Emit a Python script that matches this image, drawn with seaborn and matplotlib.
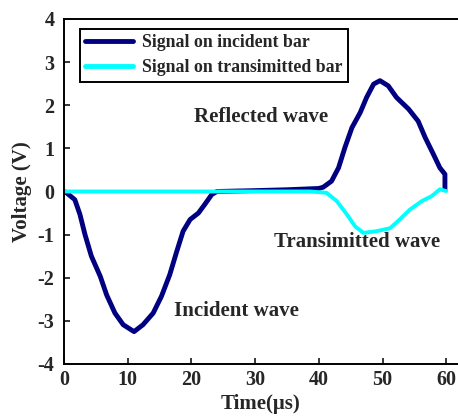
import pandas as pd
import seaborn as sns
import matplotlib
matplotlib.use("Agg")
import matplotlib.pyplot as plt

# Incident-bar signal (time in microseconds, voltage in volts)
t_incident = [0.0, 0.4, 1.7, 2.5, 3.3, 4.3, 5.7, 6.7, 8.0, 9.3, 11.0, 12.4,
              14.0, 15.3, 16.6, 17.7, 18.7, 19.8, 21.1, 22.1, 23.2, 24.0,
              30.0, 35.0, 40.0, 40.7, 42.0, 43.1, 44.1, 45.2, 46.5, 47.5,
              48.6, 49.6, 50.9, 52.2, 54.1, 55.6, 56.7, 58.0, 59.0, 59.8,
              59.8]
v_incident = [0.0, -0.03, -0.19, -0.53, -1.0, -1.5, -1.97, -2.4, -2.82, -3.09,
              -3.25, -3.09, -2.82, -2.43, -1.93, -1.39, -0.92, -0.65, -0.5,
              -0.3, -0.07, 0.0, 0.02, 0.04, 0.07, 0.1, 0.24, 0.55, 1.02, 1.48,
              1.83, 2.18, 2.49, 2.57, 2.45, 2.18, 1.91, 1.63, 1.25, 0.86,
              0.55, 0.4, 0.05]

# Transmitted-bar signal
t_transmit = [0.0, 10.0, 20.0, 30.0, 38.6, 41.2, 42.8, 44.4, 45.7, 47.0, 49.1,
              51.2, 52.7, 54.3, 56.2, 57.7, 59.0, 60.0]
v_transmit = [0.0, 0.0, 0.0, 0.0, 0.0, -0.03, -0.22, -0.53, -0.81, -0.96,
              -0.92, -0.85, -0.65, -0.42, -0.22, -0.11, 0.05, 0.01]

series_names = ["Signal on incident bar", "Signal on transimitted bar"]
series_colors = ["#000080", "#00FFFF"]

x_ticks = [0, 10, 20, 30, 40, 50, 60]
y_ticks = [-4, -3, -2, -1, 0, 1, 2, 3, 4]

annotations = [
    ("Reflected wave", 30.9, 1.72),
    ("Incident wave", 27.0, -2.78),
    ("Transimitted wave", 46.0, -1.18),
]

df = pd.concat([
    pd.DataFrame({"t": t_incident, "v": v_incident, "series": series_names[0]}),
    pd.DataFrame({"t": t_transmit, "v": v_transmit, "series": series_names[1]}),
], ignore_index=True)

sns.set_style("ticks")
plt.rcParams["font.family"] = ["Liberation Serif", "DejaVu Serif"]
plt.rcParams["font.weight"] = "bold"
plt.rcParams["axes.unicode_minus"] = False

fig = plt.figure(figsize=(4.58, 4.19), dpi=100)
ax = fig.add_axes([0.1397, 0.1313, 0.8603, 0.8234])

for name, color, lw in zip(series_names, series_colors, [3.5, 2.8]):
    sub = df[df["series"] == name]
    sns.lineplot(data=sub, x="t", y="v", sort=False, estimator=None,
                 color=color, linewidth=lw, label=name, ax=ax,
                 solid_joinstyle="round", solid_capstyle="round")

ax.set_xlim(0, 61.85)
ax.set_ylim(-4, 4)
ax.set_xticks(x_ticks)
ax.set_yticks(y_ticks)
ax.tick_params(direction="in", length=4, width=1.3, labelsize=14.5,
               top=False, right=False)
ax.tick_params(axis="x", pad=4)
ax.tick_params(axis="y", pad=7)
for lbl in ax.get_xticklabels() + ax.get_yticklabels():
    lbl.set_fontweight("bold")

for side in ["left", "bottom", "top"]:
    ax.spines[side].set_linewidth(1.4)
    ax.spines[side].set_color("black")
ax.spines["right"].set_visible(False)

ax.set_xlabel("Time(μs)", fontsize=15, fontweight="bold", labelpad=3)
ax.set_ylabel("Voltage (V)", fontsize=15, fontweight="bold", labelpad=4)

for text, x, y in annotations:
    ax.text(x, y, text, fontsize=15, fontweight="bold", ha="center",
            va="center")

leg = ax.legend(loc="upper left", bbox_to_anchor=(0.041, 0.971),
                prop={"family": "Liberation Serif", "weight": "bold",
                      "size": 12.8},
                handlelength=2.7, handletextpad=0.5, borderpad=0.3,
                labelspacing=0.45, fancybox=False, framealpha=1,
                edgecolor="black", borderaxespad=0)
leg.get_frame().set_linewidth(1.4)
for line in leg.get_lines():
    line.set_linewidth(3.5)

fig.savefig("out.png", dpi=100)
